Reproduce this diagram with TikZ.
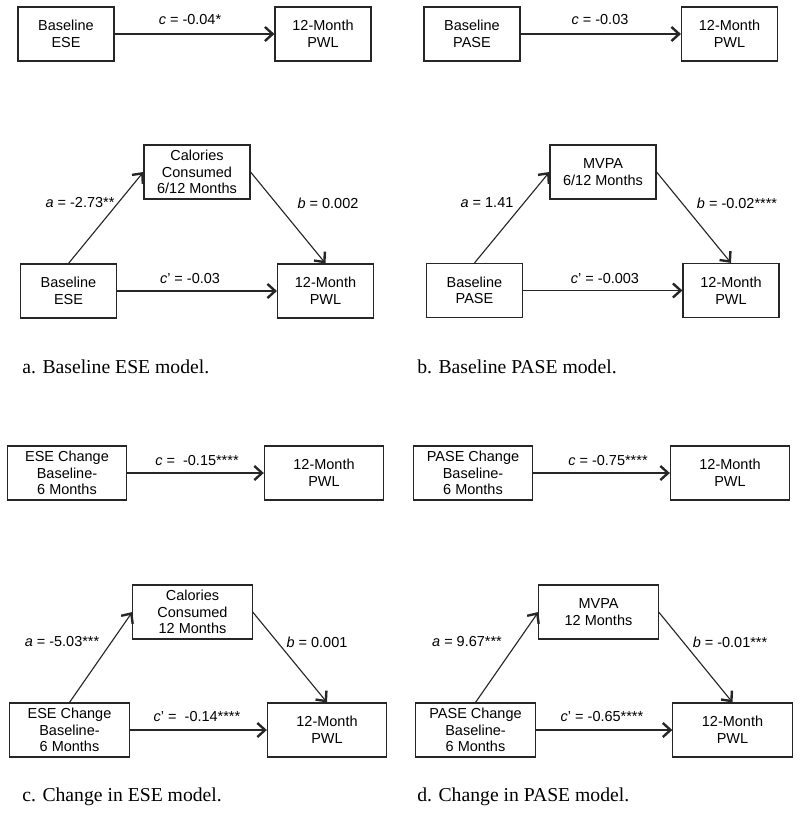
\documentclass[tikz,border=0pt]{standalone}
\usepackage{fontspec}
\setmainfont{Liberation Sans}
\newfontfamily\capfont{Liberation Serif}
\usetikzlibrary{arrows.meta}

\tikzset{
  vbox/.style={draw=black!85,line width=0.8pt,minimum height=1.35cm,inner sep=1pt,
               align=center,font=\fontsize{10.3}{11.8}\selectfont},
  narrow/.style={vbox,minimum width=2.4cm},
  medium/.style={vbox,minimum width=2.65cm},
  wide/.style={vbox,minimum width=2.98cm},
  link/.style={draw=black!85,line width=0.8pt,-{Straight Barb[length=5.5pt,width=10pt,line width=1.7pt]}},
  lbl/.style={inner sep=0pt,font=\fontsize{10.3}{12}\selectfont},
  legend/.style={anchor=west,inner sep=0pt,font=\capfont\fontsize{14}{16}\selectfont}
}

\begin{document}
\begin{tikzpicture}[x=0.025cm,y=-0.025cm]
\useasboundingbox (0,0) rectangle (800,813);
% a. baseline ESE
\node[narrow] (ax0) at (66,34) {Baseline\\ESE};
\node[narrow] (ay0) at (323,34) {12-Month\\PWL};
\draw[link] (ax0.east) -- (ay0.west);
\node[lbl] (ac0) at (190,20) {\textit{c} = -0.04*};
\node[medium] (am) at (197,172) {Calories\\Consumed\\6/12 Months};
\node[narrow] (ax) at (68.5,291) {Baseline\\ESE};
\node[narrow] (ay) at (325.5,291) {12-Month\\PWL};
\draw[link] (ax.north) -- (am.west);
\draw[link] (am.east) -- (ay.north);
\draw[link] (ax.east) -- (ay.west);
\node[lbl] (aa) at (80,203) {\textit{a} = -2.73**};
\node[lbl] (ab) at (328,203) {\textit{b} = 0.002};
\node[lbl] (ac) at (190,279) {\textit{c}' = -0.03};
\node[legend] (acap) at (22,367) {a. Baseline ESE model.};
% b. baseline PASE
\node[narrow] (bx0) at (472,34) {Baseline\\PASE};
\node[narrow] (by0) at (729.5,34) {12-Month\\PWL};
\draw[link] (bx0.east) -- (by0.west);
\node[lbl] (bc0) at (600,20) {\textit{c} = -0.03};
\node[medium] (bm) at (603,172) {MVPA\\6/12 Months};
\node[narrow] (bx) at (474.5,290.5) {Baseline\\PASE};
\node[narrow] (by) at (731,290.5) {12-Month\\PWL};
\draw[link] (bx.north) -- (bm.west);
\draw[link] (bm.east) -- (by.north);
\draw[link] (bx.east) -- (by.west);
\node[lbl] (ba) at (487,203) {\textit{a} = 1.41};
\node[lbl] (bb) at (737,203) {\textit{b} = -0.02****};
\node[lbl] (bc) at (605,279) {\textit{c}' = -0.003};
\node[legend] (bcap) at (417,367) {b. Baseline PASE model.};
% c. change in ESE
\node[wide] (cx0) at (67,473) {ESE Change\\Baseline-\\6 Months};
\node[wide] (cy0) at (324,473) {12-Month\\PWL};
\draw[link] (cx0.east) -- (cy0.west);
\node[lbl] (cc0) at (197,461) {\textit{c} =\ \ -0.15****};
\node[wide] (cm) at (192.5,612) {Calories\\Consumed\\12 Months};
\node[wide] (cx) at (69.5,730) {ESE Change\\Baseline-\\6 Months};
\node[wide] (cy) at (327,730) {12-Month\\PWL};
\draw[link] (cx.north) -- (cm.west);
\draw[link] (cm.east) -- (cy.north);
\draw[link] (cx.east) -- (cy.west);
\node[lbl] (ca) at (62,642) {\textit{a} = -5.03***};
\node[lbl] (cb) at (317,642) {\textit{b} = 0.001};
\node[lbl] (cc) at (197,717) {\textit{c}' =\ \ -0.14****};
\node[legend] (ccap) at (22,797) {c. Change in ESE model.};
% d. change in PASE
\node[wide] (dx0) at (473,473) {PASE Change\\Baseline-\\6 Months};
\node[wide] (dy0) at (730,473) {12-Month\\PWL};
\draw[link] (dx0.east) -- (dy0.west);
\node[lbl] (dc0) at (608,461) {\textit{c} = -0.75****};
\node[wide] (dm) at (598.5,612) {MVPA\\12 Months};
\node[wide] (dx) at (475.5,730) {PASE Change\\Baseline-\\6 Months};
\node[wide] (dy) at (732.5,730) {12-Month\\PWL};
\draw[link] (dx.north) -- (dm.west);
\draw[link] (dm.east) -- (dy.north);
\draw[link] (dx.east) -- (dy.west);
\node[lbl] (da) at (467,642) {\textit{a} = 9.67***};
\node[lbl] (db) at (730,642) {\textit{b} = -0.01***};
\node[lbl] (dc) at (602,717) {\textit{c}' = -0.65****};
\node[legend] (dcap) at (417,797) {d. Change in PASE model.};
\end{tikzpicture}
\end{document}
